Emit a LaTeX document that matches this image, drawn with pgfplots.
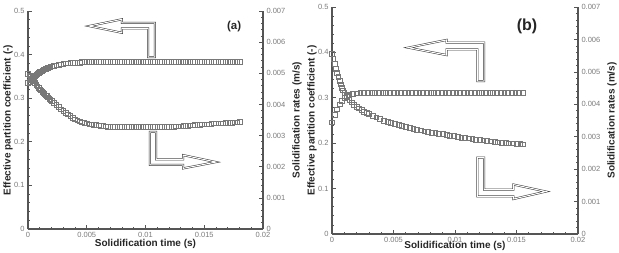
\documentclass[border=0pt]{standalone}
\usepackage{pgfplots}
\pgfplotsset{compat=1.18}
\usepackage{fontspec}
\setmainfont{Liberation Sans}
\definecolor{axc}{HTML}{555555}
\definecolor{tkc}{HTML}{7A7A7A}
\definecolor{mkc}{HTML}{787878}
\tikzset{arr/.style={draw=black!80, double=white, double distance=1pt, line width=0.5pt, fill=white}}
\newcommand{\lblfont}{\fontsize{10}{11}\selectfont\bfseries}
\pgfplotsset{
  base/.style={scale only axis, xmin=0, xmax=0.02, clip=false, scaled ticks=false,
    axis line style={axc, line width=1.1pt},
    tick style={axc, line width=0.7pt},
    major tick length=4pt, minor tick length=2pt, tick align=inside,
    ticklabel style={font=\fontsize{7.5}{8}\selectfont, text=tkc},
    /pgf/number format/assume math mode=true},
  leftax/.style={base, ymin=0, ymax=0.5,
    axis x line*=bottom, axis y line*=left,
    xtick={0,0.005,0.01,0.015,0.02}, xticklabels={0,0.005,0.01,0.015,0.02},
    minor x tick num=4,
    ytick={0,0.1,0.2,0.3,0.4,0.5}, yticklabels={0,0.1,0.2,0.3,0.4,0.5},
    minor y tick num=4,
    xlabel={Solidification time (s)},
    ylabel={Effective partition coefficient (-)},
    every axis x label/.style={at={(axis description cs:0.5,0)}, anchor=center, yshift=-15pt, font=\lblfont, text=black!85},
    every axis y label/.style={at={(axis description cs:#1,0.5)}, rotate=90, anchor=center, font=\lblfont, text=black!85}},
  rightax/.style={base, ymin=0, ymax=0.007,
    axis x line=none, axis y line*=right,
    ytick={0,0.001,0.002,0.003,0.004,0.005,0.006,0.007},
    yticklabels={0,0.001,0.002,0.003,0.004,0.005,0.006,0.007},
    minor y tick num=4,
    ylabel={Solidification rates (m/s)},
    every axis y label/.style={at={(axis description cs:#1,0.5)}, rotate=90, anchor=center, font=\lblfont, text=black!85}},
  mk/.style={only marks, mark=square, mark size=#1, mark options={draw=mkc, line width=0.5pt, fill=none}}
}
\begin{document}
\begin{tikzpicture}
\useasboundingbox (0,0) rectangle (619pt,252pt);
% ---------------- panel (a) ----------------
\begin{axis}[leftax=-0.085, at={(28pt,23pt)}, anchor=south west, width=235pt, height=218pt]
\addplot[mk=2.3pt] coordinates {
(0,0.335)(0.0001,0.338)(0.0002,0.341)(0.0003,0.344)(0.0004,0.347)(0.0005,0.350)(0.0006,0.352)(0.0007,0.354)
(0.0008,0.356)(0.0009,0.358)(0.001,0.360)(0.0011,0.362)(0.0012,0.363)(0.0013,0.365)(0.0014,0.366)(0.0015,0.368)
(0.0016,0.369)(0.0017,0.370)(0.0018,0.371)(0.0019,0.372)(0.002,0.373)(0.0022,0.374)(0.0024,0.376)(0.0026,0.377)
(0.0028,0.378)(0.003,0.379)(0.0032,0.380)(0.0034,0.380)(0.0036,0.381)(0.0038,0.381)(0.004,0.382)(0.0042,0.382)
(0.0044,0.382)(0.0046,0.383)(0.0048,0.383)(0.005,0.383)(0.0052,0.383)(0.0054,0.383)(0.0056,0.383)(0.0058,0.384)
(0.006,0.383)(0.0062,0.383)(0.0064,0.383)(0.0066,0.384)(0.0068,0.383)(0.007,0.383)(0.0072,0.383)(0.0074,0.384)
(0.0076,0.383)(0.0078,0.383)(0.008,0.383)(0.0082,0.384)(0.0084,0.383)(0.0086,0.383)(0.0088,0.383)(0.009,0.384)
(0.0092,0.383)(0.0094,0.383)(0.0096,0.383)(0.0098,0.384)(0.010,0.383)(0.0102,0.383)(0.0104,0.383)(0.0106,0.384)
(0.0108,0.383)(0.011,0.383)(0.0112,0.383)(0.0114,0.384)(0.0116,0.383)(0.0118,0.383)(0.012,0.383)(0.0122,0.384)
(0.0124,0.383)(0.0126,0.383)(0.0128,0.383)(0.013,0.384)(0.0132,0.383)(0.0134,0.383)(0.0136,0.383)(0.0138,0.384)
(0.014,0.383)(0.0142,0.383)(0.0144,0.383)(0.0146,0.384)(0.0148,0.383)(0.015,0.383)(0.0152,0.383)(0.0154,0.384)
(0.0156,0.383)(0.0158,0.383)(0.016,0.383)(0.0162,0.384)(0.0164,0.383)(0.0166,0.383)(0.0168,0.383)(0.017,0.384)
(0.0172,0.383)(0.0174,0.383)(0.0176,0.383)(0.0178,0.383)(0.018,0.383)
};
\end{axis}
\begin{axis}[rightax=1.145, at={(28pt,23pt)}, anchor=south west, width=235pt, height=218pt]
\addplot[mk=2.3pt] coordinates {
(0,0.00498)(0.0001,0.00494)(0.0002,0.00489)(0.0003,0.00484)(0.0004,0.00479)(0.0005,0.00474)(0.0006,0.00469)(0.0007,0.00464)
(0.0008,0.00459)(0.0009,0.00454)(0.001,0.00449)(0.0011,0.00445)(0.0012,0.00441)(0.0013,0.00437)(0.0014,0.00434)(0.0015,0.00430)
(0.0016,0.00427)(0.0017,0.00423)(0.0018,0.00419)(0.0019,0.00415)(0.002,0.00412)(0.0022,0.00405)(0.0024,0.00399)(0.0026,0.00392)
(0.0028,0.00385)(0.003,0.00379)(0.0032,0.00374)(0.0034,0.00368)(0.0036,0.00363)(0.0038,0.00358)(0.004,0.00353)(0.0042,0.00349)
(0.0044,0.00346)(0.0046,0.00343)(0.0048,0.00341)(0.005,0.00339)(0.0052,0.00337)(0.0054,0.00336)(0.0056,0.00335)(0.0058,0.00334)
(0.006,0.00333)(0.0062,0.00332)(0.0064,0.00331)(0.0066,0.00330)(0.0068,0.00329)(0.007,0.00329)(0.0072,0.00328)(0.0074,0.00328)
(0.0076,0.00328)(0.0078,0.00328)(0.008,0.00328)(0.0082,0.00328)(0.0084,0.00328)(0.0086,0.00328)(0.0088,0.00328)(0.009,0.00328)
(0.0092,0.00328)(0.0094,0.00328)(0.0096,0.00328)(0.0098,0.00328)(0.010,0.00328)(0.0102,0.00328)(0.0104,0.00328)(0.0106,0.00328)
(0.0108,0.00328)(0.011,0.00328)(0.0112,0.00329)(0.0114,0.00329)(0.0116,0.00329)(0.0118,0.00329)(0.012,0.00329)(0.0122,0.00329)
(0.0124,0.00329)(0.0126,0.00330)(0.0128,0.00330)(0.013,0.00330)(0.0132,0.00331)(0.0134,0.00332)(0.0136,0.00332)(0.0138,0.00333)
(0.014,0.00333)(0.0142,0.00334)(0.0144,0.00335)(0.0146,0.00335)(0.0148,0.00336)(0.015,0.00336)(0.0152,0.00336)(0.0154,0.00337)
(0.0156,0.00338)(0.0158,0.00339)(0.016,0.00339)(0.0162,0.00339)(0.0164,0.00340)(0.0166,0.00340)(0.0168,0.00341)(0.017,0.00342)
(0.0172,0.00342)(0.0174,0.00342)(0.0176,0.00343)(0.0178,0.00343)(0.018,0.00344)
};
\draw[arr] (rel axis cs:0.26,0.931) -- (rel axis cs:0.40,0.962) -- (rel axis cs:0.40,0.945)
  -- (rel axis cs:0.540,0.945) -- (rel axis cs:0.540,0.789) -- (rel axis cs:0.511,0.789)
  -- (rel axis cs:0.511,0.920) -- (rel axis cs:0.40,0.920) -- (rel axis cs:0.40,0.900) -- cycle;
\draw[arr] (rel axis cs:0.519,0.445) -- (rel axis cs:0.545,0.445) -- (rel axis cs:0.545,0.319)
  -- (rel axis cs:0.660,0.319) -- (rel axis cs:0.660,0.339) -- (rel axis cs:0.80,0.307)
  -- (rel axis cs:0.660,0.278) -- (rel axis cs:0.660,0.294) -- (rel axis cs:0.519,0.294) -- cycle;
\node[font=\fontsize{11.5}{12}\selectfont\bfseries, text=black!85] at (rel axis cs:0.877,0.931) {(a)};
\end{axis}
% ---------------- panel (b) ----------------
\begin{axis}[leftax=-0.081, at={(332pt,18pt)}, anchor=south west, width=246pt, height=227pt,
  every axis x label/.append style={yshift=3pt}]
\addplot[mk=2.4pt] coordinates {
(0,0.246)(0.0002,0.262)(0.0004,0.275)(0.0006,0.286)(0.0008,0.294)(0.001,0.300)
(0.0012,0.304)(0.0014,0.307)(0.0017,0.309)(0.002,0.310)(0.0023,0.311)(0.0026,0.311)
(0.0029,0.312)(0.0032,0.311)(0.0035,0.311)(0.0038,0.312)(0.0041,0.311)(0.0044,0.311)
(0.0047,0.312)(0.005,0.311)(0.0053,0.311)(0.0056,0.312)(0.0059,0.311)(0.0062,0.311)
(0.0065,0.312)(0.0068,0.311)(0.0071,0.311)(0.0074,0.312)(0.0077,0.311)(0.008,0.311)
(0.0083,0.312)(0.0086,0.311)(0.0089,0.311)(0.0092,0.312)(0.0095,0.311)(0.0098,0.311)
(0.0101,0.312)(0.0104,0.311)(0.0107,0.311)(0.011,0.312)(0.0113,0.311)(0.0116,0.311)
(0.0119,0.312)(0.0122,0.311)(0.0125,0.311)(0.0128,0.312)(0.0131,0.311)(0.0134,0.311)
(0.0137,0.312)(0.014,0.311)(0.0143,0.311)(0.0146,0.311)(0.0149,0.311)(0.0152,0.311)(0.0155,0.311)
};
\end{axis}
\begin{axis}[rightax=1.138, at={(332pt,18pt)}, anchor=south west, width=246pt, height=227pt]
\addplot[mk=2.4pt] coordinates {
(0,0.00557)(0.0001,0.00540)(0.0002,0.00525)(0.0003,0.00510)(0.0004,0.00497)(0.0005,0.00485)(0.0006,0.00473)
(0.0007,0.00462)(0.0008,0.00452)(0.0009,0.00443)(0.001,0.00435)(0.0012,0.00423)(0.0014,0.00414)(0.0016,0.00406)
(0.0018,0.00399)(0.002,0.00393)(0.0022,0.00388)(0.0024,0.00383)(0.0026,0.00378)(0.0028,0.00374)(0.003,0.00370)
(0.0033,0.00365)(0.0036,0.00360)(0.0039,0.00355)(0.0042,0.00350)(0.0045,0.00346)(0.0048,0.00342)(0.0051,0.00339)
(0.0054,0.00336)(0.0057,0.00333)(0.006,0.00330)(0.0063,0.00327)(0.0066,0.00325)(0.0069,0.00322)(0.0072,0.00320)
(0.0075,0.00317)(0.0078,0.00315)(0.0081,0.00313)(0.0084,0.00311)(0.0087,0.00310)(0.009,0.00308)(0.0093,0.00306)
(0.0096,0.00304)(0.0099,0.00302)(0.0102,0.00300)(0.0105,0.00298)(0.0108,0.00296)(0.0111,0.00295)(0.0114,0.00293)
(0.0117,0.00291)(0.012,0.00290)(0.0123,0.00289)(0.0126,0.00288)(0.0129,0.00286)(0.0132,0.00285)(0.0135,0.00283)
(0.0138,0.00282)(0.0141,0.00281)(0.0144,0.00280)(0.0147,0.00280)(0.015,0.00279)(0.0153,0.00278)(0.0155,0.00277)
};
\draw[arr] (rel axis cs:0.310,0.821) -- (rel axis cs:0.466,0.855) -- (rel axis cs:0.466,0.843)
  -- (rel axis cs:0.618,0.843) -- (rel axis cs:0.618,0.674) -- (rel axis cs:0.591,0.674)
  -- (rel axis cs:0.591,0.813) -- (rel axis cs:0.466,0.813) -- (rel axis cs:0.466,0.788) -- cycle;
\draw[arr] (rel axis cs:0.591,0.336) -- (rel axis cs:0.618,0.336) -- (rel axis cs:0.618,0.196)
  -- (rel axis cs:0.737,0.196) -- (rel axis cs:0.737,0.218) -- (rel axis cs:0.870,0.187)
  -- (rel axis cs:0.737,0.154) -- (rel axis cs:0.737,0.166) -- (rel axis cs:0.591,0.166) -- cycle;
\node[font=\fontsize{16}{17}\selectfont\bfseries, text=black!85] at (rel axis cs:0.793,0.916) {(b)};
\end{axis}
\end{tikzpicture}
\end{document}
